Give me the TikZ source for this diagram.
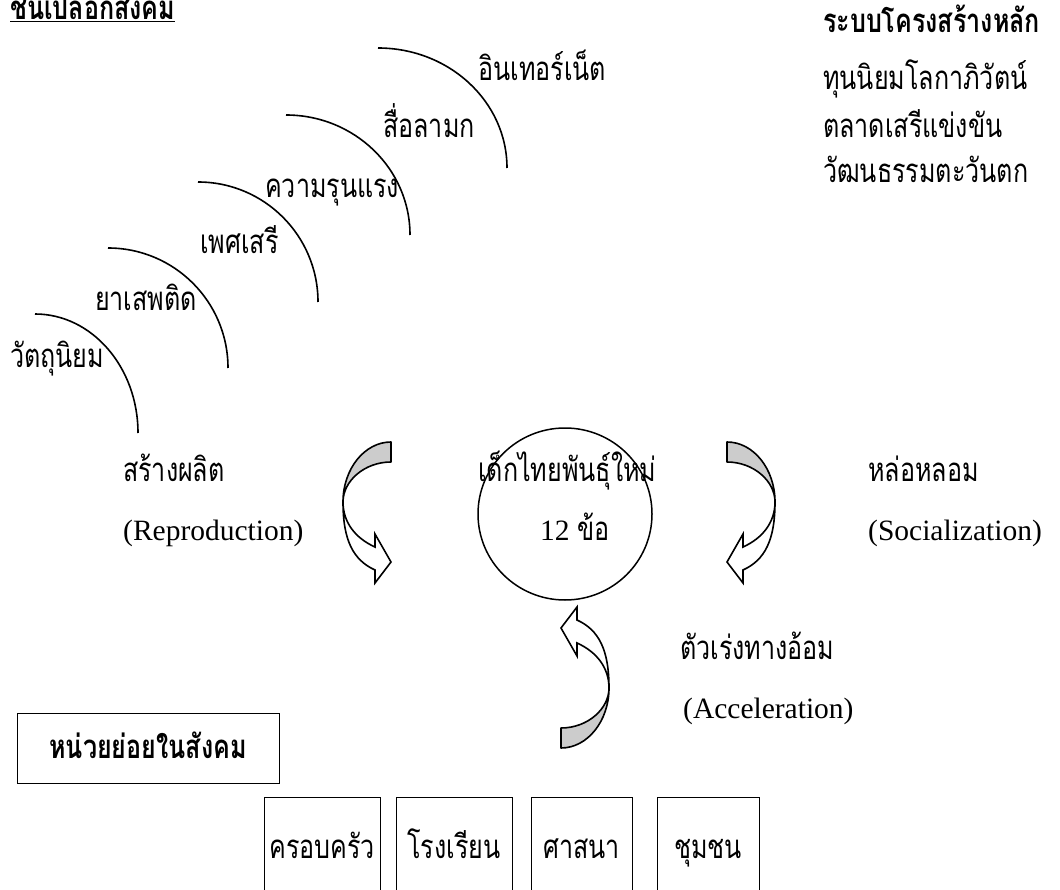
\documentclass[tikz,border=0pt]{standalone}
\usepackage{fontspec}
\setmainfont{Liberation Serif}
\newfontfamily\thai[Script=Thai, FakeStretch=0.76]{Loma}
\usetikzlibrary{shapes.geometric}
\tikzset{
  th/.style={font=\thai\fontsize{33}{38}\selectfont, inner sep=0pt, anchor=base west},
  thb/.style={font=\thai\bfseries\fontsize{33}{38}\selectfont, inner sep=0pt, anchor=base west},
  la/.style={font=\fontsize{29.5}{34}\selectfont, inner sep=0pt, anchor=base west},
  layerarc/.style={line width=1.6pt},
  unitbox/.style={draw, line width=1pt, inner sep=0pt, text height=24pt, text depth=4pt,
    font=\thai\fontsize{33}{38}\selectfont},
  pics/curvearrow/.style={code={
    \draw[line width=1.6pt, fill=black!20, line join=round]
      (0,0) .. controls (26.5,0) and (48,27) .. (48,60)
      .. controls (48,39) and (26.5,20) .. (0,20) -- cycle;
    \draw[line width=1.6pt, fill=white, line join=miter]
      (48,60) .. controls (48,80) and (36,96) .. (16,105)
      -- (16,92) -- (0,120) -- (16,141) -- (16,128)
      .. controls (38,118) and (48,98) .. (48,60) -- cycle;
  }}
}
\begin{document}
\begin{tikzpicture}[x=1pt,y=-1pt]
\useasboundingbox (0,0) rectangle (1060,890);
\fill[white] (0,0) rectangle (1060,890);
% title
\node[thb] (title) at (10,20) {\underline{ชั้นเปลือกสังคม}};
% layer arcs
\draw[layerarc] (35,314) arc[start angle=-90, end angle=0, x radius=103, y radius=119];
\draw[layerarc] (108,248) arc[start angle=-90, end angle=0, x radius=120, y radius=120];
\draw[layerarc] (198,182) arc[start angle=-90, end angle=0, x radius=120, y radius=120];
\draw[layerarc] (286,115) arc[start angle=-90, end angle=0, x radius=124, y radius=120];
\draw[layerarc] (378,48) arc[start angle=-90, end angle=0, x radius=129, y radius=120];
% layer labels
\node[th] (l1) at (10,367) {วัตถุนิยม};
\node[th] (l2) at (95,311) {ยาเสพติด};
\node[th] (l3) at (200,254) {เพศเสรี};
\node[th] (l4) at (265,198) {ความรุนแรง};
\node[th] (l5) at (383,138) {สื่อลามก};
\node[th] (l6) at (478,81) {อินเทอร์เน็ต};
% right column
\node[thb] (r0) at (823,33) {ระบบโครงสร้างหลัก};
\node[th] (r1) at (823,90) {ทุนนิยมโลกาภิวัตน์};
\node[th] (r2) at (823,138) {ตลาดเสรีแข่งขัน};
\node[th] (r3) at (823,183) {วัฒนธรรมตะวันตก};
% centre
\node[draw, ellipse, line width=1.5pt, minimum width=174pt, minimum height=172pt] (kid) at (565,514) {};
\node[th] (kid1) at (478,481) {เด็กไทยพันธุ์ใหม่};
\node[la] (kid2) at (540,540) {12 {\thai\fontsize{33}{38}\selectfont ข้อ}};
% side labels
\node[th] (rep1) at (123,481) {สร้างผลิต};
\node[la] (rep2) at (123,540) {(Reproduction)};
\node[th] (soc1) at (868,481) {หล่อหลอม};
\node[la] (soc2) at (868,540) {(Socialization)};
\node[th] (acc1) at (680,659) {ตัวเร่งทางอ้อม};
\node[la] (acc2) at (683,718) {(Acceleration)};
% curved arrows
\pic[xscale=-1] (arrL) at (391,442) {curvearrow};
\pic (arrR) at (727,442) {curvearrow};
\pic[yscale=-1] (arrB) at (561,748) {curvearrow};
% units
\node[unitbox, minimum width=262pt, minimum height=70pt, font=\thai\bfseries\fontsize{33}{38}\selectfont] (units) at (148,748) {หน่วยย่อยในสังคม};
\node[unitbox, minimum width=116pt, minimum height=102pt] (fam) at (322,848) {ครอบครัว};
\node[unitbox, minimum width=116pt, minimum height=102pt] (sch) at (454,848) {โรงเรียน};
\node[unitbox, minimum width=101pt, minimum height=102pt] (rel) at (581.5,848) {ศาสนา};
\node[unitbox, minimum width=102pt, minimum height=102pt] (com) at (708,848) {ชุมชน};
\end{tikzpicture}
\end{document}
